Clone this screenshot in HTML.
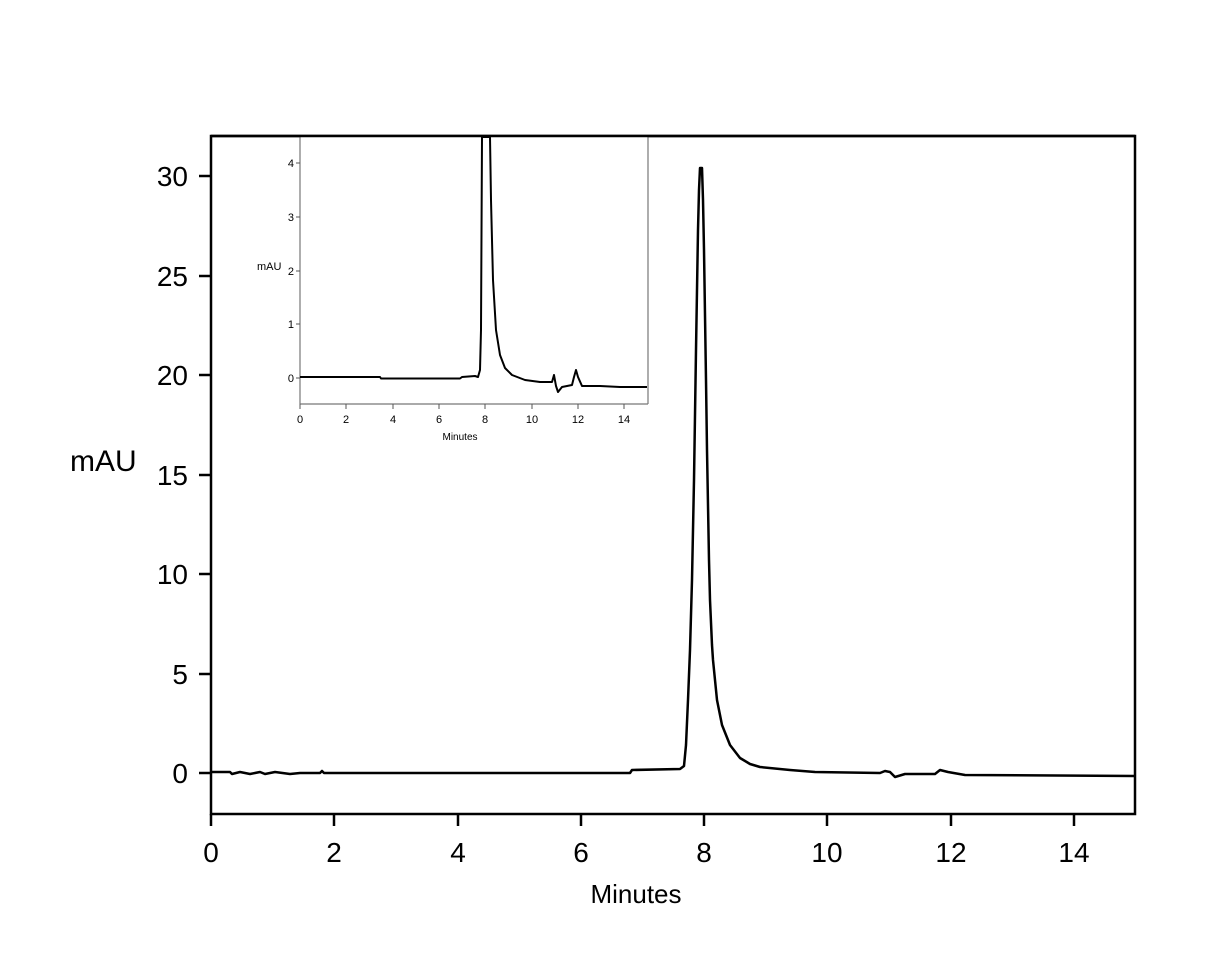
<!DOCTYPE html>
<html><head><meta charset="utf-8"><style>
html,body{margin:0;padding:0;background:#fff}
svg{display:block}
text{font-family:"Liberation Sans",Arial,sans-serif;fill:#000}
</style></head><body>
<svg width="1206" height="980" viewBox="0 0 1206 980">
<rect width="1206" height="980" fill="#fff"/>
<rect x="211" y="136" width="924" height="678" fill="none" stroke="#000" stroke-width="2.5"/>
<g stroke="#000" stroke-width="2.5">
<line x1="211" y1="814" x2="211" y2="826"/><line x1="334" y1="814" x2="334" y2="826"/>
<line x1="458" y1="814" x2="458" y2="826"/><line x1="581" y1="814" x2="581" y2="826"/>
<line x1="704" y1="814" x2="704" y2="826"/><line x1="827" y1="814" x2="827" y2="826"/>
<line x1="951" y1="814" x2="951" y2="826"/><line x1="1074" y1="814" x2="1074" y2="826"/>
<line x1="199" y1="773" x2="211" y2="773"/><line x1="199" y1="674" x2="211" y2="674"/>
<line x1="199" y1="574" x2="211" y2="574"/><line x1="199" y1="475" x2="211" y2="475"/>
<line x1="199" y1="375" x2="211" y2="375"/><line x1="199" y1="276" x2="211" y2="276"/>
<line x1="199" y1="176" x2="211" y2="176"/>
</g>
<g font-size="28" text-anchor="middle">
<text x="211" y="862">0</text><text x="334" y="862">2</text><text x="458" y="862">4</text>
<text x="581" y="862">6</text><text x="704" y="862">8</text><text x="827" y="862">10</text>
<text x="951" y="862">12</text><text x="1074" y="862">14</text>
<text x="636" y="903" font-size="26">Minutes</text>
</g>
<g font-size="28" text-anchor="end">
<text x="188" y="783">0</text><text x="188" y="684">5</text><text x="188" y="584">10</text>
<text x="188" y="485">15</text><text x="188" y="385">20</text><text x="188" y="286">25</text>
<text x="188" y="186">30</text>
</g>
<text x="70" y="471" font-size="30">mAU</text>
<polyline fill="none" stroke="#000" stroke-width="2.5" stroke-linejoin="round" points="211,772 230,772 232,774 240,772 250,774 260,772 265,774 275,772 290,774 300,773 320,773 322,771 324,773 420,773 630,773 632,770 680,769 684,766 686,745 688,700 690,650 692,580 694,480 696,350 698,230 699,190 700,168 702,168 703,200 704,250 706,380 707,450 709,560 710,600 712,645 713,660 717,700 722,725 730,745 740,758 750,764 760,767 790,770 815,772 880,773 885,771 890,772 895,777 905,774 935,774 940,770 948,772 965,775 1135,776"/>
<rect x="300" y="137" width="348" height="267" fill="#fff"/>
<g stroke="#777" stroke-width="1.2" fill="none">
<line x1="300" y1="137" x2="300" y2="404"/><line x1="300" y1="404" x2="648" y2="404"/>
<line x1="648" y1="137" x2="648" y2="404"/>
</g>
<g stroke="#555" stroke-width="1">
<line x1="300" y1="404" x2="300" y2="409"/><line x1="346" y1="404" x2="346" y2="409"/>
<line x1="393" y1="404" x2="393" y2="409"/><line x1="439" y1="404" x2="439" y2="409"/>
<line x1="485" y1="404" x2="485" y2="409"/><line x1="532" y1="404" x2="532" y2="409"/>
<line x1="578" y1="404" x2="578" y2="409"/><line x1="624" y1="404" x2="624" y2="409"/>
<line x1="296" y1="378" x2="300" y2="378"/><line x1="296" y1="324" x2="300" y2="324"/>
<line x1="296" y1="271" x2="300" y2="271"/><line x1="296" y1="217" x2="300" y2="217"/>
<line x1="296" y1="163" x2="300" y2="163"/>
</g>
<g font-size="11" text-anchor="middle">
<text x="300" y="423">0</text><text x="346" y="423">2</text><text x="393" y="423">4</text>
<text x="439" y="423">6</text><text x="485" y="423">8</text><text x="532" y="423">10</text>
<text x="578" y="423">12</text><text x="624" y="423">14</text>
<text x="460" y="440" font-size="10">Minutes</text>
</g>
<g font-size="11" text-anchor="end">
<text x="294" y="382">0</text><text x="294" y="328">1</text><text x="294" y="275">2</text>
<text x="294" y="221">3</text><text x="294" y="167">4</text>
</g>
<text x="257" y="270" font-size="11">mAU</text>
<polyline fill="none" stroke="#000" stroke-width="2" stroke-linejoin="round" points="300,377 380,377 381,378.5 460,378.5 462,377 475,376 478,377 480,370 481,330 482,137 490,137 491,200 493,280 496,330 500,355 505,368 512,375 525,380 540,382 552,382 554,375 556,386 558,392 562,387 572,385 574,377 576,370 578,377 582,386 600,386 620,387 647,387"/>
<line x1="211" y1="136" x2="1135" y2="136" stroke="#000" stroke-width="2.5"/>
</svg>
</body></html>
